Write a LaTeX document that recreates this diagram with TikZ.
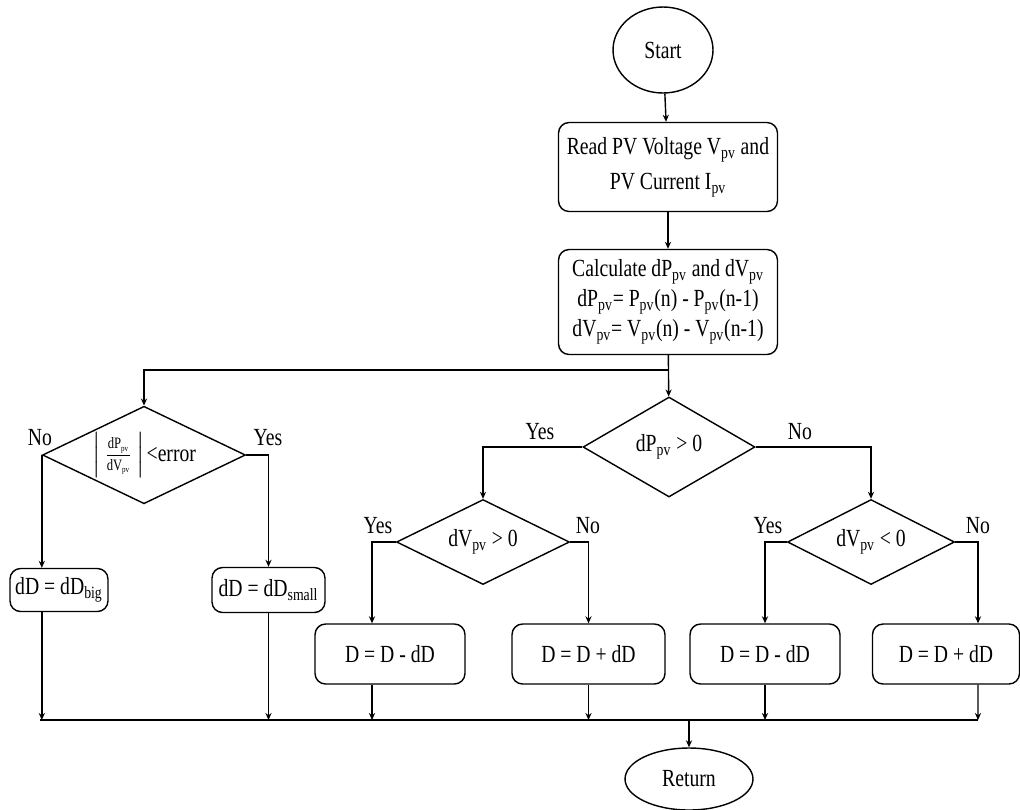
\documentclass[tikz,border=0pt]{standalone}
\usepackage{amsmath}
\usepackage{fontspec}
\setmainfont{Liberation Serif}[FakeStretch=0.8]
\usetikzlibrary{shapes.geometric,arrows.meta}

\begin{document}
\begin{tikzpicture}[x=0.02cm,y=-0.02cm,
        line width=0.8pt,
        font=\fontsize{14}{17}\selectfont,
        terminal/.style={draw,ellipse,inner sep=0pt},
        proc/.style={draw,rectangle,rounded corners=6pt,align=center,inner sep=1pt},
        decide/.style={draw,diamond,aspect=2,inner sep=0pt},
        flow/.style={-{Stealth[length=4pt,width=3.5pt]}},
        lbl/.style={inner sep=0pt}]
    \useasboundingbox (0,0) rectangle (1020,809);
    \node[terminal, minimum width=2cm, minimum height=1.72cm] (start) at (663,50) {Start};
    \node[proc, minimum width=4.38cm, minimum height=1.78cm] (read) at (668,167)
        {Read PV Voltage V\textsubscript{pv} and\\[3pt] PV Current I\textsubscript{pv}};
    \node[proc, minimum width=4.38cm, minimum height=2.1cm] (calc) at (668,302)
        {Calculate dP\textsubscript{pv} and dV\textsubscript{pv}\\ dP\textsubscript{pv}= P\textsubscript{pv}(n) - P\textsubscript{pv}(n-1)\\ dV\textsubscript{pv}= V\textsubscript{pv}(n) - V\textsubscript{pv}(n-1)};
    \node[decide, minimum width=4.06cm, minimum height=1.88cm] (err) at (144,455)
        {$\left|\,\frac{\mbox{\small dP}_{\mbox{\tiny pv}}}{\mbox{\small dV}_{\mbox{\tiny pv}}}\,\right|$\kern1pt<error};
    \node[decide, minimum width=3.44cm, minimum height=2cm] (dp) at (669,447) {dP\textsubscript{pv} > 0};
    \node[decide, minimum width=3.46cm, minimum height=1.7cm] (dva) at (483,542) {dV\textsubscript{pv} > 0};
    \node[decide, minimum width=3.34cm, minimum height=1.7cm] (dvb) at (871,542) {dV\textsubscript{pv} < 0};
    \node[proc, minimum width=1.96cm, minimum height=0.86cm] (big) at (59,590) {dD = dD\textsubscript{big}};
    \node[proc, minimum width=2.26cm, minimum height=0.9cm] (small) at (268.5,590) {dD = dD\textsubscript{small}};
    \node[proc, minimum width=3cm, minimum height=1.2cm] (dec1) at (390,654) {D = D - dD};
    \node[proc, minimum width=3.06cm, minimum height=1.2cm] (inc1) at (588.5,654) {D = D + dD};
    \node[proc, minimum width=3cm, minimum height=1.2cm] (dec2) at (765,654) {D = D - dD};
    \node[proc, minimum width=2.94cm, minimum height=1.2cm] (inc2) at (946,654) {D = D + dD};
    \node[terminal, minimum width=2.56cm, minimum height=1.24cm] (ret) at (689,779) {Return};
    \node[lbl] (errno) at (40,438) {No};
    \node[lbl] (erryes) at (268,438) {Yes};
    \node[lbl] (dpyes) at (540,432) {Yes};
    \node[lbl] (dpno) at (800,432) {No};
    \node[lbl] (dvayes) at (378,526) {Yes};
    \node[lbl] (dvano) at (588,526) {No};
    \node[lbl] (dvbyes) at (768,526) {Yes};
    \node[lbl] (dvbno) at (978,526) {No};
    \coordinate (split) at (668,370);
    \coordinate (busl) at (40,720);
    \coordinate (busr) at (978,720);
    \draw[flow] (start) -- (read);
    \draw[flow] (read) -- (calc);
    \draw[flow] (calc) -- (dp);
    \draw[flow] (split) -| (err.north);
    \draw[flow] (err.west) -- (err.west |- big.north);
    \draw[flow] (err.east) -| (small.north);
    \draw[flow] (dp.west) -| (dva.north);
    \draw[flow] (dp.east) -| (dvb.north);
    \draw[flow] (dva.west) -| ([xshift=-0.36cm]dec1.north);
    \draw[flow] (dva.east) -| (inc1.north);
    \draw[flow] (dvb.west) -| (dec2.north);
    \draw[flow] (dvb.east) -| ([xshift=0.64cm]inc2.north);
    \draw (busl) -- (busr);
    \draw[flow] (err.west |- big.south) -- (err.west |- busl);
    \draw[flow] (small.south) -- (small |- busl);
    \draw[flow] ([xshift=-0.36cm]dec1.south) -- ([xshift=-0.36cm]dec1 |- busl);
    \draw[flow] (inc1.south) -- (inc1 |- busl);
    \draw[flow] (dec2.south) -- (dec2 |- busl);
    \draw[flow] ([xshift=0.64cm]inc2.south) -- (busr);
    \draw[flow] (ret |- busl) -- (ret);
\end{tikzpicture}
\end{document}
